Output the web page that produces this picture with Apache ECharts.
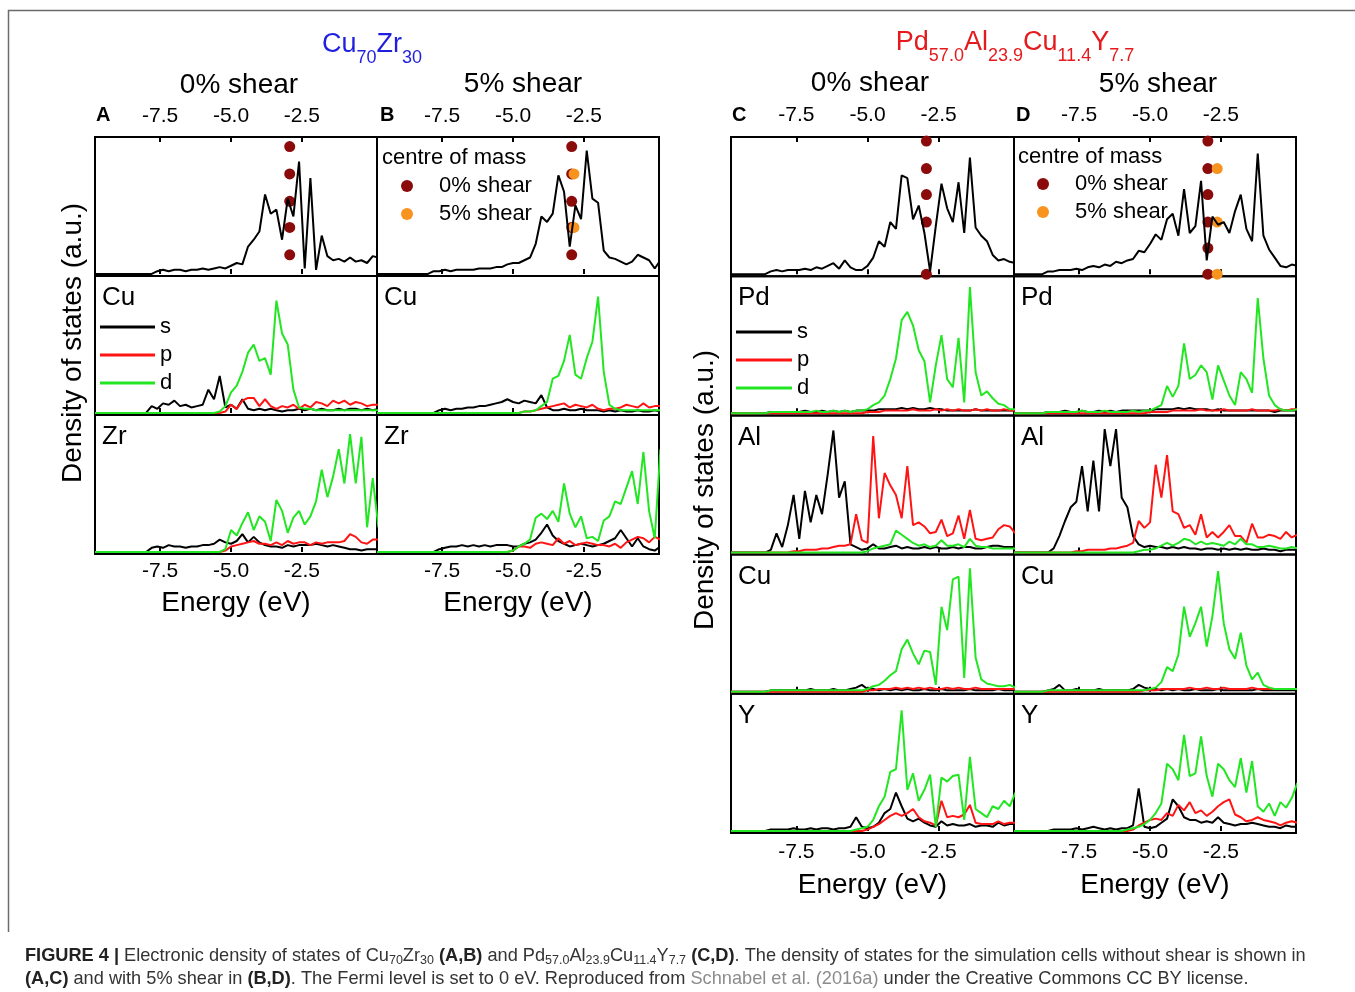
<!DOCTYPE html>
<html>
<head>
<meta charset="utf-8">
<title>Electronic density of states</title>
<script src="https://cdn.jsdelivr.net/npm/echarts@6.0.0/dist/echarts.min.js"></script>
<style>
  html, body { margin: 0; padding: 0; background: #fff; }
  #dos { width: 1355px; height: 992px; }
</style>
</head>
<body>
<div id="dos"></div>
<script>
// energy grid (eV), Fermi level at 0
var energy = [-9.8, -9.6, -9.4, -9.2, -9.0, -8.8, -8.6, -8.4, -8.2, -8.0,
  -7.8, -7.6, -7.4, -7.2, -7.0, -6.8, -6.6, -6.4, -6.2, -6.0,
  -5.8, -5.6, -5.4, -5.2, -5.0, -4.8, -4.6, -4.4, -4.2, -4.0,
  -3.8, -3.6, -3.4, -3.2, -3.0, -2.8, -2.6, -2.4, -2.2, -2.0,
  -1.8, -1.6, -1.4, -1.2, -1.0, -0.8, -0.6, -0.4, -0.2, 0.0, 0.2];
var tickValues = [-7.5, -5.0, -2.5];

// ---- Cu70Zr30 (A: 0% shear, B: 5% shear) ----
var totA = [0,0,0,0,0,0,0,0,0,0, 0,2,3,2,3,3,2,3,3,4, 3,4,5,4,6,8,7,20,25,31, 58,44,47,25,55,42,82,4,70,3, 28,13,10,11,9,12,9,10,8,13, 12];
var cuA_s = [0,0,0,0,0,0,0,0,0,0, 5,3,7,6,9,5,6,4,5,6, 17,10,27,4,6,3,10,3,2,3, 2,3,2,1,2,2,3,2,3,2, 3,2,2,3,2,3,3,2,3,2, 3];
var cuA_p = [0,0,0,0,0,0,0,0,0,0, 0,0,0,0,0,0,0,0,0,0, 0,0,0,1,6,3,9,11,11,5, 10,5,3,5,4,6,3,6,4,8, 7,5,9,7,9,6,8,7,5,6, 6];
var cuA_d = [0,0,0,0,0,0,0,0,0,0, 0,0,0,0,0,0,0,0,0,0, 0,0,1,5,15,20,30,44,50,38, 40,28,82,58,50,17,4,3,3,2, 2,2,2,2,2,2,2,2,2,2, 2];
var zrA_s = [0,0,0,0,0,0,0,0,0,0, 3,4,3,5,4,4,3,4,4,5, 5,6,9,7,6,8,13,7,11,7, 5,4,4,3,5,4,5,5,5,6, 5,4,5,4,3,2,2,1,2,2, 2];
var zrA_p = [0,0,0,0,0,0,0,0,0,0, 0,0,0,0,0,0,0,0,0,0, 0,0,0,1,4,5,6,7,8,6, 6,5,7,5,8,6,7,7,5,7, 6,7,7,7,8,13,11,7,6,9, 9];
var zrA_d = [0,0,0,0,0,0,0,0,0,0, 0,0,0,0,0,0,0,0,0,0, 0,0,0,2,16,12,21,29,16,26, 22,8,38,30,14,25,30,20,26,37, 60,40,55,75,50,86,50,84,18,54, 18];

var totB = [0,0,0,0,0,0,0,0,0,0, 2,2,3,2,3,3,3,3,4,4, 4,5,5,7,8,8,10,12,22,42, 38,44,72,60,20,50,40,90,55,52, 17,12,11,9,7,9,14,12,10,4, 10];
var cuB_s = [0,0,0,0,0,0,0,0,0,0, 0,2,3,2,3,3,4,4,5,5, 6,7,8,10,8,7,9,8,7,13, 4,2,2,3,2,2,3,2,2,2, 1,2,1,2,1,1,2,1,1,2, 1];
var cuB_p = [0,0,0,0,0,0,0,0,0,0, 0,0,0,0,0,0,0,0,0,0, 0,0,0,0,0,0,1,1,2,3, 4,5,6,7,4,6,5,4,6,3, 2,3,3,4,6,5,4,7,4,5, 5];
var cuB_d = [0,0,0,0,0,0,0,0,0,0, 0,0,0,0,0,0,0,0,0,0, 0,0,0,0,0,0,1,1,2,5, 8,25,27,38,57,28,25,40,52,85, 30,6,3,2,2,2,2,2,2,2, 2];
var zrB_s = [0,0,0,0,0,0,0,0,0,0, 0,2,3,4,4,5,4,5,4,5, 4,5,5,5,4,4,6,7,9,14, 20,12,8,6,4,5,6,5,4,5, 6,8,10,16,10,4,10,4,2,1, 4];
var zrB_p = [0,0,0,0,0,0,0,0,0,0, 0,0,0,0,0,0,0,0,0,0, 0,0,0,0,1,4,4,3,6,7, 6,5,10,6,8,5,6,7,6,5, 5,4,6,3,7,9,11,10,7,11, 9];
var zrB_d = [0,0,0,0,0,0,0,0,0,0, 0,0,0,0,0,0,0,0,0,0, 0,0,0,0,1,4,6,9,25,28, 24,30,22,50,28,18,26,10,11,8, 23,26,37,35,47,59,35,73,30,10, 75];

// ---- Pd57.0Al23.9Cu11.4Y7.7 (C: 0% shear, D: 5% shear) ----
var totC = [0,0,0,0,0,0,0,2,3,2, 3,3,3,4,3,5,4,6,8,4, 10,5,3,3,6,12,24,20,38,33, 72,70,40,50,30,2,35,66,48,38, 67,30,85,34,28,24,14,10,11,9, 8];
var pdC_s = [0,0,0,0,0,0,0,1,1,1, 1,1,1,2,1,1,2,1,2,1, 2,1,2,2,2,2,3,3,3,3, 4,3,4,3,3,4,3,3,2,2, 2,2,2,3,2,2,2,2,2,2, 2];
var pdC_p = [0,0,0,0,0,0,0,0,0,0, 0,0,0,0,0,0,0,0,0,0, 0,0,0,0,1,1,1,2,2,2, 2,2,3,2,2,2,3,2,3,2, 3,2,2,3,2,3,2,2,3,2, 2];
var pdC_d = [0,0,0,0,0,0,0,1,1,1, 1,1,1,1,1,2,1,1,2,1, 2,1,2,2,3,6,8,13,25,40, 68,74,64,46,38,8,35,57,25,19, 55,8,92,30,13,16,11,7,6,3, 3];
var alC_s = [0,0,0,0,0,0,0,2,14,4, 20,42,10,45,22,42,28,57,89,40, 52,6,4,2,3,6,3,3,4,5, 3,4,3,3,4,3,4,3,3,4, 3,4,4,3,3,4,5,5,4,4, 4];
var alC_p = [0,0,0,0,0,0,0,0,0,0, 0,1,1,2,2,2,3,3,4,5, 5,6,28,9,7,85,25,58,49,42, 25,63,20,22,19,14,15,24,12,14, 27,10,31,10,9,10,11,17,20,19, 14];
var alC_d = [0,0,0,0,0,0,0,0,0,0, 0,0,0,0,0,0,0,0,0,0, 0,0,0,0,1,3,4,5,6,16, 13,10,7,5,6,4,5,9,5,5, 6,4,10,5,4,4,3,3,3,3, 3];
var cuC_s = [0,0,0,0,0,0,0,1,1,1, 1,1,1,1,2,1,1,1,2,1, 1,2,3,5,2,2,1,2,1,2, 1,2,1,1,2,1,1,2,1,1, 1,1,2,1,1,1,1,2,1,1, 1];
var cuC_p = [0,0,0,0,0,0,0,0,0,0, 0,0,0,0,0,0,0,0,0,0, 0,0,0,0,1,1,2,2,2,3, 2,3,2,3,2,3,2,2,3,2, 3,2,2,3,2,2,2,2,2,2, 2];
var cuC_d = [0,0,0,0,0,0,0,1,1,1, 1,1,1,1,1,1,1,1,1,1, 1,1,1,1,2,4,5,8,12,15, 31,38,28,20,30,29,5,62,45,82, 84,10,90,25,9,6,5,4,4,5, 3];
var yC_s = [0,0,0,0,0,0,0,1,1,1, 1,2,1,1,2,1,2,2,1,2, 2,3,10,3,2,3,6,13,16,28, 18,9,7,9,6,4,3,7,4,5, 4,4,5,3,4,4,3,6,4,5, 5];
var yC_p = [0,0,0,0,0,0,0,0,0,0, 0,0,0,0,0,0,0,0,0,0, 0,0,0,0,1,3,5,8,11,13, 11,13,16,10,7,6,4,22,10,11, 10,12,19,6,5,5,5,7,5,6, 6];
var yC_d = [0,0,0,0,0,0,0,0,0,0, 0,0,0,0,0,0,0,0,0,0, 0,0,1,2,3,8,18,25,43,45, 88,30,42,22,30,41,3,39,36,40, 41,8,54,16,13,10,18,16,22,18, 28];

var totD = [0,0,0,0,0,0,2,2,3,3, 3,4,3,5,6,5,7,6,9,8, 10,11,17,16,22,29,25,40,44,28, 62,30,35,68,10,42,36,38,30,46, 58,33,24,88,28,18,12,6,5,7, 6];
var pdD_s = [0,0,0,0,0,0,1,1,1,2, 1,1,2,1,1,2,1,2,1,2, 2,2,2,2,2,3,3,3,3,4, 3,4,3,3,3,2,3,2,2,2, 2,2,2,2,2,2,1,2,2,2, 2];
var pdD_p = [0,0,0,0,0,0,0,0,0,0, 0,0,0,0,0,0,0,0,0,0, 0,0,0,0,1,1,1,1,2,2, 2,2,2,3,2,2,2,3,2,2, 2,2,3,2,2,2,2,3,2,3, 3];
var pdD_d = [0,0,0,0,0,0,1,1,1,1, 1,1,2,1,1,1,2,1,1,1, 1,2,1,2,2,4,6,20,12,20, 51,25,28,35,30,10,35,24,13,6, 30,25,15,84,40,13,6,3,2,2, 3];
var alD_s = [0,0,0,0,0,0,0,3,12,23, 33,37,63,30,67,30,90,63,90,40, 33,12,6,4,5,4,4,3,4,3, 4,3,3,2,3,3,2,3,2,3, 2,3,2,2,3,2,2,1,2,2, 2];
var alD_p = [0,0,0,0,0,0,0,0,0,0, 0,1,1,2,2,2,2,3,3,4, 5,7,23,18,22,64,40,71,30,28, 18,20,13,28,11,15,11,15,20,12, 12,7,21,11,11,13,12,10,15,11, 13];
var alD_d = [0,0,0,0,0,0,0,0,0,0, 0,0,0,0,0,0,0,0,0,0, 0,0,1,2,2,3,5,7,5,7, 10,9,6,8,6,7,6,5,8,6, 10,6,6,4,4,5,4,3,3,4, 3];
var cuD_s = [0,0,0,0,0,0,1,2,5,1, 1,2,1,1,1,2,1,1,1,1, 1,2,5,3,2,2,1,2,1,2, 1,1,2,1,1,1,2,1,1,1, 1,1,1,2,1,1,1,1,1,1, 1];
var cuD_p = [0,0,0,0,0,0,0,0,0,0, 0,0,0,0,0,0,0,0,0,0, 0,0,0,1,1,1,2,2,2,2, 2,3,2,2,3,2,2,3,2,2, 2,2,3,2,2,2,2,2,2,2, 2];
var cuD_d = [0,0,0,0,0,0,1,1,1,1, 1,1,1,1,1,1,1,1,1,1, 1,1,1,1,2,3,7,18,15,27, 62,40,50,62,33,55,88,50,31,24, 43,19,9,14,5,3,2,2,2,2, 2];
var yD_s = [0,0,0,0,0,0,0,1,1,1, 1,2,1,2,3,2,1,2,1,2, 2,4,31,3,2,3,6,9,23,18, 10,8,8,6,7,6,10,6,5,4, 5,5,6,5,4,3,3,2,4,3, 3];
var yD_p = [0,0,0,0,0,0,0,0,0,0, 0,0,0,0,0,0,0,0,0,0, 0,1,4,6,8,9,8,13,11,19, 15,21,13,15,11,14,18,21,23,12, 10,7,8,10,8,7,6,4,6,7, 6];
var yD_d = [0,0,0,0,0,0,0,0,0,0, 0,0,0,0,0,0,0,0,0,0, 1,2,3,5,8,13,20,49,45,37, 70,40,42,69,40,25,49,45,37,32, 53,28,51,18,14,20,11,21,17,24, 35];

// centre of mass markers (energy, heights inside the total-DOS panel)
var comA0 = { x: -2.93, y: [93, 73, 53, 34, 14] };
var comB0 = { x: -2.93, y: [93, 73, 53, 34, 14] };
var comB5 = { x: -2.85, y: [73, 34] };
var comC0 = { x: -2.93, y: [97, 77, 58, 38, 0] };
var comD0 = { x: -2.96, y: [97, 77, 58, 38, 19, 0] };
var comD5 = { x: -2.63, y: [77, 38, 0] };

var FONT = "'Liberation Sans', Arial, Helvetica, sans-serif";
var BLACK = '#000000', RED = '#ff1414', GREEN = '#22e622';
var DARKRED = '#8b0b0b', ORANGE = '#f7931e';
var BLUE = '#1f1fe0', TITLE_RED = '#e41a1c';

var panels = [
  { x: 95, y: 137, w: 282, h: 139, top: true, tot: totA, c0: comA0 },
  { x: 95, y: 276, w: 282, h: 139, el: 'Cu', pdos: [cuA_s, cuA_p, cuA_d] },
  { x: 95, y: 415, w: 282, h: 139, el: 'Zr', pdos: [zrA_s, zrA_p, zrA_d], bottom: true, gap: 7, nameGap: 35 },
  { x: 377, y: 137, w: 282, h: 139, top: true, tot: totB, c0: comB0, c5: comB5 },
  { x: 377, y: 276, w: 282, h: 139, el: 'Cu', pdos: [cuB_s, cuB_p, cuB_d] },
  { x: 377, y: 415, w: 282, h: 139, el: 'Zr', pdos: [zrB_s, zrB_p, zrB_d], bottom: true, gap: 7, nameGap: 35 },
  { x: 731, y: 137, w: 283, h: 139.2, top: true, tot: totC, c0: comC0 },
  { x: 731, y: 276.2, w: 283, h: 139.2, el: 'Pd', pdos: [pdC_s, pdC_p, pdC_d] },
  { x: 731, y: 415.4, w: 283, h: 139.2, el: 'Al', pdos: [alC_s, alC_p, alC_d] },
  { x: 731, y: 554.6, w: 283, h: 139.2, el: 'Cu', pdos: [cuC_s, cuC_p, cuC_d] },
  { x: 731, y: 693.8, w: 283, h: 139.2, el: 'Y', pdos: [yC_s, yC_p, yC_d], bottom: true, gap: 9, nameGap: 38 },
  { x: 1014, y: 137, w: 282, h: 139.2, top: true, tot: totD, c0: comD0, c5: comD5 },
  { x: 1014, y: 276.2, w: 282, h: 139.2, el: 'Pd', pdos: [pdD_s, pdD_p, pdD_d] },
  { x: 1014, y: 415.4, w: 282, h: 139.2, el: 'Al', pdos: [alD_s, alD_p, alD_d] },
  { x: 1014, y: 554.6, w: 282, h: 139.2, el: 'Cu', pdos: [cuD_s, cuD_p, cuD_d] },
  { x: 1014, y: 693.8, w: 282, h: 139.2, el: 'Y', pdos: [yD_s, yD_p, yD_d], bottom: true, gap: 9, nameGap: 38 }
];

function pairs(arr) {
  return energy.map(function (e, k) { return [e, arr[k]]; });
}

function dosLine(i, name, arr, color) {
  return {
    type: 'line', name: name, xAxisIndex: i, yAxisIndex: i,
    data: pairs(arr), symbol: 'none', clip: true, silent: true, z: 3,
    color: color, itemStyle: { color: color },
    lineStyle: { color: color, width: 2 },
    emphasis: { disabled: true }
  };
}

function comDots(i, name, com, color) {
  return {
    type: 'scatter', name: name, xAxisIndex: i, yAxisIndex: i,
    data: com.y.map(function (v) { return [com.x, v]; }),
    symbol: 'circle', symbolSize: 11, clip: false, silent: true, z: 2,
    itemStyle: { color: color, opacity: 1 },
    emphasis: { disabled: true }
  };
}

function energyAxis(i, p, position) {
  var labelled = position === 'top' || p.bottom;
  return {
    gridIndex: i, type: 'value', position: position,
    min: -9.8, max: 0.15,
    axisLine: { show: false },
    splitLine: { show: false },
    axisTick: { show: true, inside: true, length: 5, customValues: tickValues,
      lineStyle: { color: '#000', width: 2 } },
    axisLabel: { show: labelled, customValues: tickValues,
      margin: position === 'top' ? (p.x > 700 ? 11 : 10) : p.gap,
      fontSize: 21, color: '#000', fontFamily: FONT,
      formatter: function (v) { return Number(v).toFixed(1); } },
    name: position === 'bottom' && p.bottom ? 'Energy (eV)' : '',
    nameLocation: 'middle', nameGap: p.nameGap || 30,
    nameTextStyle: { fontSize: 28, color: '#000', fontFamily: FONT }
  };
}

function label(x, y, text, size, extra) {
  var style = { text: text, fontSize: size, fontFamily: FONT, fill: '#000',
    align: 'left', verticalAlign: 'middle' };
  for (var k in (extra || {})) style[k] = extra[k];
  return { type: 'text', x: x, y: y, silent: true, z: 10, style: style };
}

var grids = [], xAxes = [], topAxes = [], yAxes = [], series = [], graphics = [];

panels.forEach(function (p, i) {
  grids.push({ left: p.x, top: p.y, width: p.w, height: p.h, show: true,
    borderColor: '#000', borderWidth: 2, backgroundColor: 'transparent',
    containLabel: false, outerBoundsMode: 'none' });
  xAxes.push(energyAxis(i, p, 'bottom'));
  if (p.top) topAxes.push(energyAxis(i, p, 'top'));
  yAxes.push({ gridIndex: i, type: 'value', min: -1.5, max: 100, show: false });

  if (p.tot) {
    if (p.c0) series.push(comDots(i, '0% shear', p.c0, DARKRED));
    if (p.c5) series.push(comDots(i, '5% shear', p.c5, ORANGE));
    series.push(dosLine(i, 'total', p.tot, BLACK));
  } else {
    series.push(dosLine(i, 's', p.pdos[0], BLACK));
    series.push(dosLine(i, 'p', p.pdos[1], RED));
    series.push(dosLine(i, 'd', p.pdos[2], GREEN));
    graphics.push(label(p.x + 7, p.y + 22, p.el, 26));
  }
});
xAxes = xAxes.concat(topAxes);

function formulaRich(color) {
  return {
    m: { fontSize: 27, lineHeight: 28, fill: color, fontFamily: FONT },
    s: { fontSize: 18, lineHeight: 18, padding: [27, 0, 0, 0], fill: color, fontFamily: FONT }
  };
}

// compositions
graphics.push(label(372, 45, '{m|Cu}{s|70}{m|Zr}{s|30}', 27,
  { align: 'center', rich: formulaRich(BLUE) }));
graphics.push(label(1015, 43, '{m|Pd}{s|57.0}{m|Al}{s|23.9}{m|Cu}{s|11.4}{m|Y}{s|7.7}', 27,
  { align: 'center', rich: formulaRich(TITLE_RED) }));

// shear headings
graphics.push(label(239, 85, '0% shear', 28, { align: 'center' }));
graphics.push(label(523, 84, '5% shear', 28, { align: 'center' }));
graphics.push(label(870, 83, '0% shear', 28, { align: 'center' }));
graphics.push(label(1158, 84, '5% shear', 28, { align: 'center' }));

// panel letters
graphics.push(label(96, 115, 'A', 20, { fontWeight: 'bold' }));
graphics.push(label(380, 115, 'B', 20, { fontWeight: 'bold' }));
graphics.push(label(732, 115, 'C', 20, { fontWeight: 'bold' }));
graphics.push(label(1016, 115, 'D', 20, { fontWeight: 'bold' }));

// legend headers
graphics.push(label(382, 158, 'centre of mass', 22));
graphics.push(label(1018, 157, 'centre of mass', 22));

// y axis titles
graphics.push({ type: 'text', x: 73, y: 343, rotation: Math.PI / 2, silent: true,
  style: { text: 'Density of states (a.u.)', fontSize: 28, fontFamily: FONT, fill: '#000',
    align: 'center', verticalAlign: 'middle' } });
graphics.push({ type: 'text', x: 705, y: 490, rotation: Math.PI / 2, silent: true,
  style: { text: 'Density of states (a.u.)', fontSize: 28, fontFamily: FONT, fill: '#000',
    align: 'center', verticalAlign: 'middle' } });

// frame of the figure
graphics.push({ type: 'polyline', silent: true,
  shape: { points: [[8.5, 932], [8.5, 10.5], [1355, 10.5]] },
  style: { stroke: '#6b6b6b', lineWidth: 1.5, fill: null } });

// caption
var CAP = 18.2;
var capRich = {
  b: { fontSize: CAP, fontWeight: 'bold', fill: '#222', fontFamily: FONT, lineHeight: CAP },
  s: { fontSize: 12.5, fill: '#333', fontFamily: FONT, lineHeight: 12, padding: [10, 0, 0, 0] },
  g: { fontSize: CAP, fill: '#8c8c8c', fontFamily: FONT, lineHeight: CAP }
};
graphics.push(label(25, 956,
  '{b|FIGURE 4 |} Electronic density of states of Cu{s|70}Zr{s|30} {b|(A,B)} and Pd{s|57.0}Al{s|23.9}Cu{s|11.4}Y{s|7.7} {b|(C,D)}. The density of states for the simulation cells without shear is shown in',
  CAP, { fill: '#333', rich: capRich, lineHeight: CAP }));
graphics.push(label(25, 979,
  '{b|(A,C)} and with 5% shear in {b|(B,D)}. The Fermi level is set to 0 eV. Reproduced from {g|Schnabel et al. (2016a)} under the Creative Commons CC BY license.',
  CAP, { fill: '#333', rich: capRich, lineHeight: CAP }));

var legendText = { fontSize: 22, lineHeight: 22, color: '#000', fontFamily: FONT };
// left of the circle legends = dot centre - 6 (the layout starts at the drawn circle)
var legends = [
  { data: ['s', 'p', 'd'], left: 100, top: 316, itemWidth: 55 },
  { data: ['s', 'p', 'd'], left: 736, top: 321, itemWidth: 56 }
].map(function (l) {
  return { data: l.data, left: l.left, top: l.top, orient: 'vertical', padding: 0,
    icon: 'rect', itemWidth: l.itemWidth, itemHeight: 3, itemGap: 6,
    selectedMode: false, textStyle: legendText };
}).concat([
  { left: 401, top: 175 },
  { left: 1037, top: 173 }
].map(function (l) {
  return { data: ['0% shear', '5% shear'], left: l.left, top: l.top, orient: 'vertical',
    padding: 0, icon: 'circle', itemWidth: 54, itemHeight: 12, itemGap: 6,
    selectedMode: false, textStyle: legendText };
}));

var myChart = echarts.init(document.getElementById('dos'), null, { renderer: 'canvas' });
var option = {
  backgroundColor: '#ffffff',
  animation: false,
  textStyle: { fontFamily: FONT },
  grid: grids,
  xAxis: xAxes,
  yAxis: yAxes,
  legend: legends,
  series: series,
  graphic: { elements: graphics }
};
myChart.setOption(option);
window.addEventListener('resize', function () {
  myChart.resize();
});
</script>
</body>
</html>
